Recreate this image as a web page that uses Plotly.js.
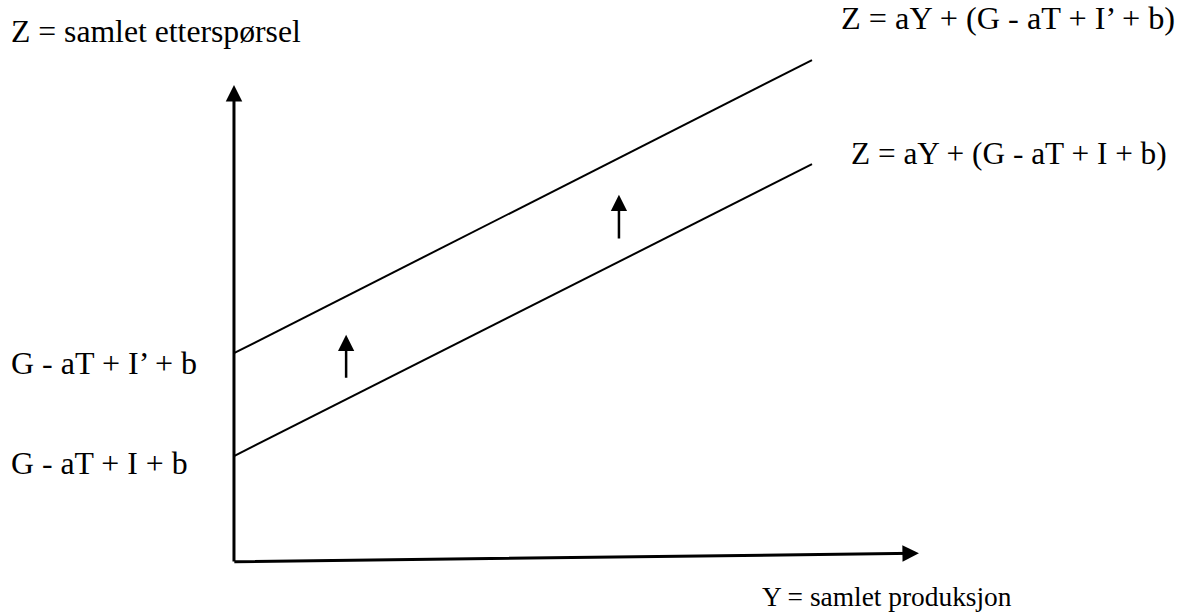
<!DOCTYPE html>
<html>
<head>
<meta charset="utf-8">
<script src="https://cdn.plot.ly/plotly-3.0.1.min.js"></script>
<style>html,body{margin:0;padding:0;background:#fff;}#chart{width:1182px;height:615px;}</style>
</head>
<body>
<div id="chart"></div>
<script>
// Output Y (horizontal) at the two ends of each demand line
const outputY = [0, 10];
// Demand Z = aY + (G - aT + I + b)  (original investment I)
const demandLow = [1.85, 6.90];
// Demand Z = aY + (G - aT + I' + b) (higher investment I')
const demandHigh = [3.63, 8.70];
// Upward-shift arrows: position on Y and [tail, tip] on Z
const shiftArrowY = [1.94, 6.66];
const shiftArrowTail = [3.18, 5.59];
const shiftArrowTip = [3.95, 6.37];
// Axis extents (end of the drawn axis arrows)
const axisEndY = [11.85, 0.17];
const axisEndZ = 8.27;
// Texts
const interceptLabels = ["G - aT + I’ + b", "G - aT + I + b"];
const lineLabels = ["Z = aY + (G - aT + I’ + b)", "Z = aY + (G - aT + I + b)"];
const axisTitles = ["Z = samlet etterspørsel", "Y = samlet produksjon"];

const FAMILY = '"Liberation Serif", "Times New Roman", serif';

const traces = [
  {x: outputY, y: demandHigh, mode: 'lines', line: {color: '#000', width: 2}, hoverinfo: 'skip', showlegend: false},
  {x: outputY, y: demandLow, mode: 'lines', line: {color: '#000', width: 2}, hoverinfo: 'skip', showlegend: false}
];

function arrow(x, y, ax, ay, w, s) {
  return {x: x, y: y, ax: ax, ay: ay, xref: 'x', yref: 'y', axref: 'x', ayref: 'y',
    text: '', showarrow: true, arrowhead: 2, arrowwidth: w, arrowsize: s, arrowcolor: '#000', standoff: 0, startstandoff: 0};
}
function label(text, x, y, size) {
  return {text: text, x: x, y: y, xref: 'paper', yref: 'paper', xanchor: 'left', yanchor: 'middle',
    showarrow: false, font: {family: FAMILY, size: size, color: '#000'}};
}
const H = 615, W = 1182;
const annotations = [
  arrow(0, axisEndZ, 0, 0, 3, 1.1),
  arrow(axisEndY[0], axisEndY[1], -0.02, 0.02, 3, 1.1),
  arrow(shiftArrowY[0], shiftArrowTip[0], shiftArrowY[0], shiftArrowTail[0], 2.5, 1.3),
  arrow(shiftArrowY[1], shiftArrowTip[1], shiftArrowY[1], shiftArrowTail[1], 2.5, 1.3),
  label(axisTitles[0], 9 / W, 1 - 31 / H, 31.7),
  label(axisTitles[1], 760 / W, 1 - 597 / H, 27.4),
  label(interceptLabels[0], 9 / W, 1 - 363 / H, 32),
  label(interceptLabels[1], 9 / W, 1 - 463 / H, 31.8),
  label(lineLabels[0], 839 / W, 1 - 18 / H, 32.3),
  label(lineLabels[1], 849 / W, 1 - 153 / H, 31.3)
];

const layout = {
  width: W, height: H, autosize: false,
  margin: {l: 0, r: 0, t: 0, b: 0, pad: 0},
  paper_bgcolor: '#fff', plot_bgcolor: '#fff',
  xaxis: {range: [-4.048, 16.401], visible: false, fixedrange: true},
  yaxis: {range: [-0.8997, 9.7405], visible: false, fixedrange: true},
  annotations: annotations,
  showlegend: false
};
Plotly.newPlot('chart', traces, layout, {displayModeBar: false, staticPlot: true});
</script>
</body>
</html>
